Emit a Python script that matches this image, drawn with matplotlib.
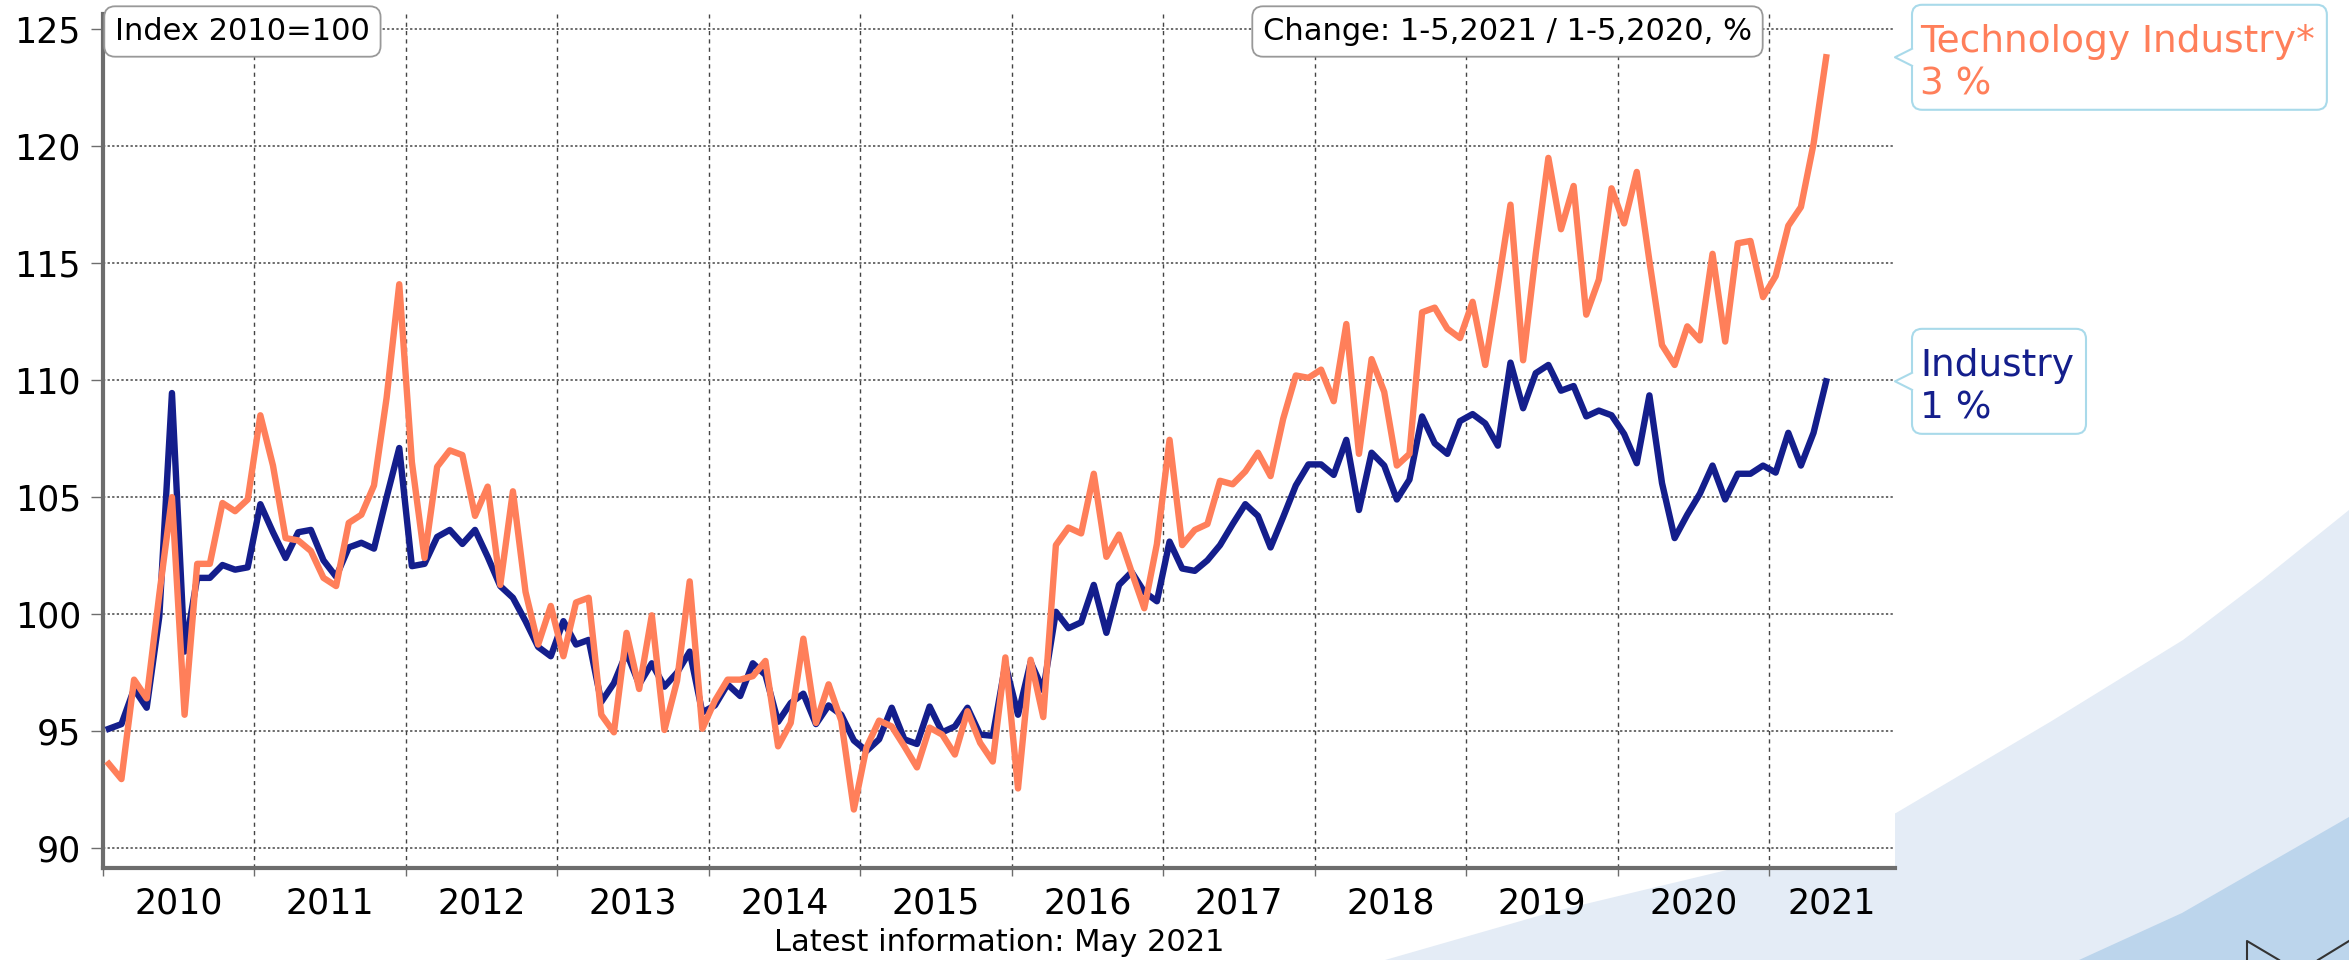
import numpy as np
import matplotlib
matplotlib.use('Agg')
import matplotlib.pyplot as plt
from matplotlib.patches import FancyBboxPatch, Polygon
from matplotlib.transforms import IdentityTransform, blended_transform_factory
from matplotlib.lines import Line2D

# ---------------- data ----------------
years = list(range(2010, 2022))
industry = [
    95.1, 95.3, 96.8, 96.0, 99.9, 109.45, 98.4, 101.55, 101.55, 102.1, 101.9, 102.0,
    104.7, 103.5, 102.4, 103.5, 103.6, 102.3, 101.6, 102.85, 103.05, 102.8, 105.0, 107.1,
    102.05, 102.15, 103.3, 103.6, 103.0, 103.6, 102.45, 101.2, 100.7, 99.7, 98.6, 98.2,
    99.7, 98.7, 98.9, 96.25, 97.05, 98.35, 97.0, 97.9, 96.9, 97.5, 98.4, 95.8,
    96.1, 97.0, 96.5, 97.9, 97.4, 95.4, 96.2, 96.6, 95.3, 96.1, 95.7, 94.6,
    94.15, 94.65, 96.0, 94.65, 94.45, 96.05, 94.95, 95.2, 96.0, 94.85, 94.8, 97.85,
    95.7, 97.95, 96.75, 100.1, 99.4, 99.65, 101.25, 99.2, 101.25, 101.8, 100.95, 100.55,
    103.1, 101.95, 101.85, 102.3, 102.95, 103.85, 104.7, 104.2, 102.85, 104.15, 105.5, 106.4,
    106.4, 105.95, 107.45, 104.45, 106.9, 106.35, 104.9, 105.75, 108.45, 107.3, 106.85, 108.25,
    108.55, 108.15, 107.2, 110.75, 108.8, 110.3, 110.65, 109.55, 109.75, 108.45, 108.7, 108.5,
    107.7, 106.45, 109.35, 105.6, 103.25, 104.25, 105.15, 106.35, 104.9, 106.0, 106.0, 106.35,
    106.05, 107.75, 106.35, 107.75, 109.95,
]
technology = [
    93.6, 92.95, 97.2, 96.4, 100.85, 105.0, 95.7, 102.15, 102.15, 104.75, 104.4, 104.9,
    108.5, 106.35, 103.25, 103.15, 102.7, 101.55, 101.2, 103.9, 104.25, 105.5, 109.25, 114.1,
    106.5, 102.4, 106.3, 107.0, 106.8, 104.2, 105.45, 101.25, 105.25, 100.95, 98.7, 100.35,
    98.2, 100.5, 100.7, 95.7, 94.95, 99.2, 96.8, 99.95, 95.05, 97.15, 101.4, 95.1,
    96.3, 97.2, 97.2, 97.35, 98.0, 94.35, 95.35, 98.95, 95.35, 97.0, 95.45, 91.65,
    94.3, 95.45, 95.2, 94.35, 93.45, 95.15, 94.85, 94.0, 95.85, 94.5, 93.7, 98.15,
    92.55, 98.05, 95.6, 102.95, 103.7, 103.45, 106.0, 102.45, 103.4, 101.8, 100.25, 103.0,
    107.45, 102.95, 103.6, 103.85, 105.7, 105.55, 106.1, 106.9, 105.9, 108.35, 110.2, 110.1,
    110.45, 109.1, 112.4, 106.85, 110.9, 109.5, 106.35, 106.85, 112.9, 113.1, 112.2, 111.8,
    113.35, 110.65, 114.0, 117.5, 110.85, 115.4, 119.5, 116.45, 118.3, 112.8, 114.3, 118.2,
    116.7, 118.9, 115.1, 111.5, 110.65, 112.3, 111.7, 115.4, 111.65, 115.85, 115.95, 113.55,
    114.45, 116.6, 117.4, 120.1, 123.8,
]
series_names = ['Industry', 'Technology Industry*']
change_pct = [1, 3]
y_ticks = [90, 95, 100, 105, 110, 115, 120, 125]
index_note = 'Index 2010=100'
change_note = 'Change: 1-5,2021 / 1-5,2020, %'
latest_note = 'Latest information: May 2021'

# ---------------- style ----------------
NAVY = '#141E8C'
CORAL = '#FF7F5A'
SPINE = '#6d6d6d'
GRID = '#444444'
CALLOUT_EDGE = '#A9DAEA'
LIGHT_BG = '#E4ECF6'
DARK_BG = '#BCD5EC'

W, H, DPI = 2349, 960, 100
plt.rcParams['font.family'] = ['DejaVu Sans']
fig = plt.figure(figsize=(W / DPI, H / DPI), dpi=DPI)
fig.patch.set_facecolor('white')


def fpts(pts):
    return [(x / W, 1 - y / H) for x, y in pts]


# decorative background swoosh (figure pixel coordinates)
fig.add_artist(Polygon(fpts([(1385, 960), (1552, 912), (1727, 870), (1896, 813), (2050, 722),
                             (2183, 640), (2262, 580), (2349, 510), (2349, 960)]),
                       closed=True, fc=LIGHT_BG, ec='none', transform=fig.transFigure, zorder=-10))
fig.add_artist(Polygon(fpts([(2079, 960), (2182, 913), (2262, 867), (2349, 817), (2349, 960)]),
                       closed=True, fc=DARK_BG, ec='none', transform=fig.transFigure, zorder=-9))
for seg in ([(2247, 960), (2247, 941), (2279, 960)], [(2318, 960), (2349, 941)]):
    p = fpts(seg)
    fig.add_artist(Line2D([q[0] for q in p], [q[1] for q in p], color='#333333', lw=1.5,
                          transform=fig.transFigure, zorder=-8))

ax_left, ax_right, ax_top, ax_bottom = 102.5, 1895, 14, 868
ax = fig.add_axes([ax_left / W, (H - ax_bottom) / H, (ax_right - ax_left) / W, (ax_bottom - ax_top) / H])
ax.set_facecolor('white')

n = len(industry)
x = np.arange(n) + 0.5
x_right = 141.95
ax.set_xlim(0, x_right)
ax.set_ylim(89.15, 125.65)

ax.plot(x, industry, color=NAVY, lw=4.6, solid_joinstyle='round', zorder=3)
ax.plot(x, technology, color=CORAL, lw=4.6, solid_joinstyle='round', zorder=4)

# axes / ticks
year_starts = [12 * k for k in range(len(years))]
ax.set_xticks(year_starts)
ax.set_xticklabels([])
centers = [(s + min(s + 12, x_right)) / 2 for s in year_starts]
ax.set_xticks(centers, minor=True)
ax.set_xticklabels([str(y) for y in years], minor=True)
ax.tick_params(axis='x', which='major', length=6, width=1, color=SPINE, direction='out')
ax.tick_params(axis='x', which='minor', length=0, labelsize=25, pad=13)
ax.set_yticks(y_ticks)
ax.tick_params(axis='y', length=8.5, width=1, color=SPINE, labelsize=25, pad=7)

ax.yaxis.grid(True, linestyle=(0, (1.5, 1.5)), color=GRID, lw=1.1)
ax.xaxis.grid(True, which='major', linestyle=(0, (3, 3)), color=GRID, lw=1.0)
ax.set_axisbelow(True)

for s in ['top', 'right']:
    ax.spines[s].set_visible(False)
for s in ['left', 'bottom']:
    ax.spines[s].set_color(SPINE)
    ax.spines[s].set_linewidth(3)

# info boxes
box_kw = dict(boxstyle='round,pad=0.35,rounding_size=0.35', fc='white', ec='#999999', lw=1.3)
y_box = 1 - (31.5 - ax_top) / (ax_bottom - ax_top)
ax.text((115 - ax_left) / (ax_right - ax_left), y_box, index_note, transform=ax.transAxes,
        fontsize=22, ha='left', va='center', bbox=box_kw, zorder=6, clip_on=False)
ax.text((1507.5 - ax_left) / (ax_right - ax_left), y_box, change_note, transform=ax.transAxes,
        fontsize=22, ha='center', va='center', bbox=box_kw, zorder=6, clip_on=False)

pos = ax.get_position()
fig.text(pos.x0 + pos.width / 2, 9 / H, latest_note, fontsize=22, ha='center', va='baseline')

# callouts at the right end, pointing at last values
fig.canvas.draw()
renderer = fig.canvas.get_renderer()
blend = blended_transform_factory(ax.transAxes, ax.transData)
ident = IdentityTransform()
for vals, name, pct, color in [(technology, series_names[1], change_pct[1], CORAL),
                               (industry, series_names[0], change_pct[0], NAVY)]:
    tipx, tipy = blend.transform((1.0, vals[-1]))
    bl = tipx + 17
    bh = 105
    t1 = fig.text(bl + 8, tipy + 5, name, transform=ident, fontsize=27, color=color,
                  ha='left', va='baseline', zorder=12)
    t2 = fig.text(bl + 8, tipy - 37, f'{pct} %', transform=ident, fontsize=27, color=color,
                  ha='left', va='baseline', zorder=12)
    tw = max(t1.get_window_extent(renderer).width, t2.get_window_extent(renderer).width)
    bw = tw + 8 + 12
    fig.add_artist(FancyBboxPatch((bl, tipy - bh / 2), bw, bh,
                                  boxstyle='round,pad=0,rounding_size=10', transform=ident,
                                  fc='white', ec=CALLOUT_EDGE, lw=1.5, zorder=10))
    fig.add_artist(Polygon([(bl + 2, tipy + 8.5), (bl - 1, tipy + 8.5), (tipx, tipy),
                            (bl - 1, tipy - 8.5), (bl + 2, tipy - 8.5)], closed=True,
                           fc='white', ec='none', transform=ident, zorder=11))
    fig.add_artist(Line2D([bl, tipx, bl], [tipy + 8.5, tipy, tipy - 8.5], color=CALLOUT_EDGE,
                          lw=1.5, transform=ident, zorder=11))

fig.savefig('out.png', dpi=DPI, facecolor='white')
